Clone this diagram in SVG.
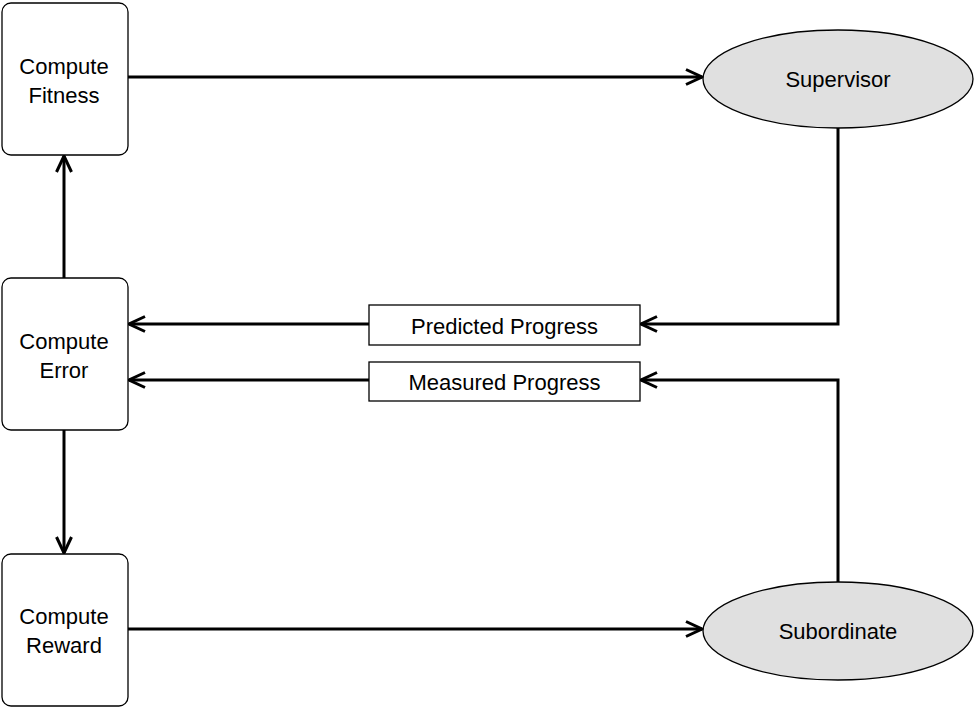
<svg xmlns="http://www.w3.org/2000/svg" width="979" height="709" viewBox="0 0 979 709">
<style>
.box{fill:#fff;stroke:#000;stroke-width:1.3}
.ell{fill:#e0e0e0;stroke:#000;stroke-width:1.3}
.t{font-family:"Liberation Sans",Arial,sans-serif;font-size:22px;fill:#000;text-anchor:middle}
.c{fill:none;stroke:#000;stroke-width:3}
</style>
<defs>
<marker id="ah" viewBox="0 0 20 20" refX="18" refY="10" markerWidth="20" markerHeight="20" markerUnits="userSpaceOnUse" orient="auto">
<path d="M2,2.5 L18,10 L2,17.5" fill="none" stroke="#000" stroke-width="3"/>
</marker>
</defs>
<rect width="979" height="709" fill="#fff"/>
<g id="connectors">
<path class="c" d="M128,77 H702" marker-end="url(#ah)"/>
<path class="c" d="M838,128 V324 H641" marker-end="url(#ah)"/>
<path class="c" d="M369,324 H129" marker-end="url(#ah)"/>
<path class="c" d="M838,582 V380 H641" marker-end="url(#ah)"/>
<path class="c" d="M369,380 H129" marker-end="url(#ah)"/>
<path class="c" d="M64,278 V156" marker-end="url(#ah)"/>
<path class="c" d="M64,430 V553" marker-end="url(#ah)"/>
<path class="c" d="M128,629 H702" marker-end="url(#ah)"/>
</g>
<g id="fitness">
<rect class="box" x="2" y="3" width="126" height="152" rx="9"/>
<text class="t" x="64" y="74">Compute</text>
<text class="t" x="64" y="103">Fitness</text>
</g>
<g id="error">
<rect class="box" x="2" y="278" width="126" height="152" rx="9"/>
<text class="t" x="64" y="349">Compute</text>
<text class="t" x="64" y="378">Error</text>
</g>
<g id="reward">
<rect class="box" x="2" y="554" width="126" height="152" rx="9"/>
<text class="t" x="64" y="624">Compute</text>
<text class="t" x="64" y="653">Reward</text>
</g>
<g id="supervisor">
<ellipse class="ell" cx="838" cy="79" rx="135" ry="49"/>
<text class="t" x="838" y="87">Supervisor</text>
</g>
<g id="subordinate">
<ellipse class="ell" cx="838" cy="631" rx="135" ry="49"/>
<text class="t" x="838" y="639">Subordinate</text>
</g>
<g id="predicted">
<rect class="box" x="369" y="305" width="271" height="40"/>
<text class="t" x="504.5" y="334">Predicted Progress</text>
</g>
<g id="measured">
<rect class="box" x="369" y="362" width="271" height="39"/>
<text class="t" x="504.5" y="390">Measured Progress</text>
</g>
</svg>
